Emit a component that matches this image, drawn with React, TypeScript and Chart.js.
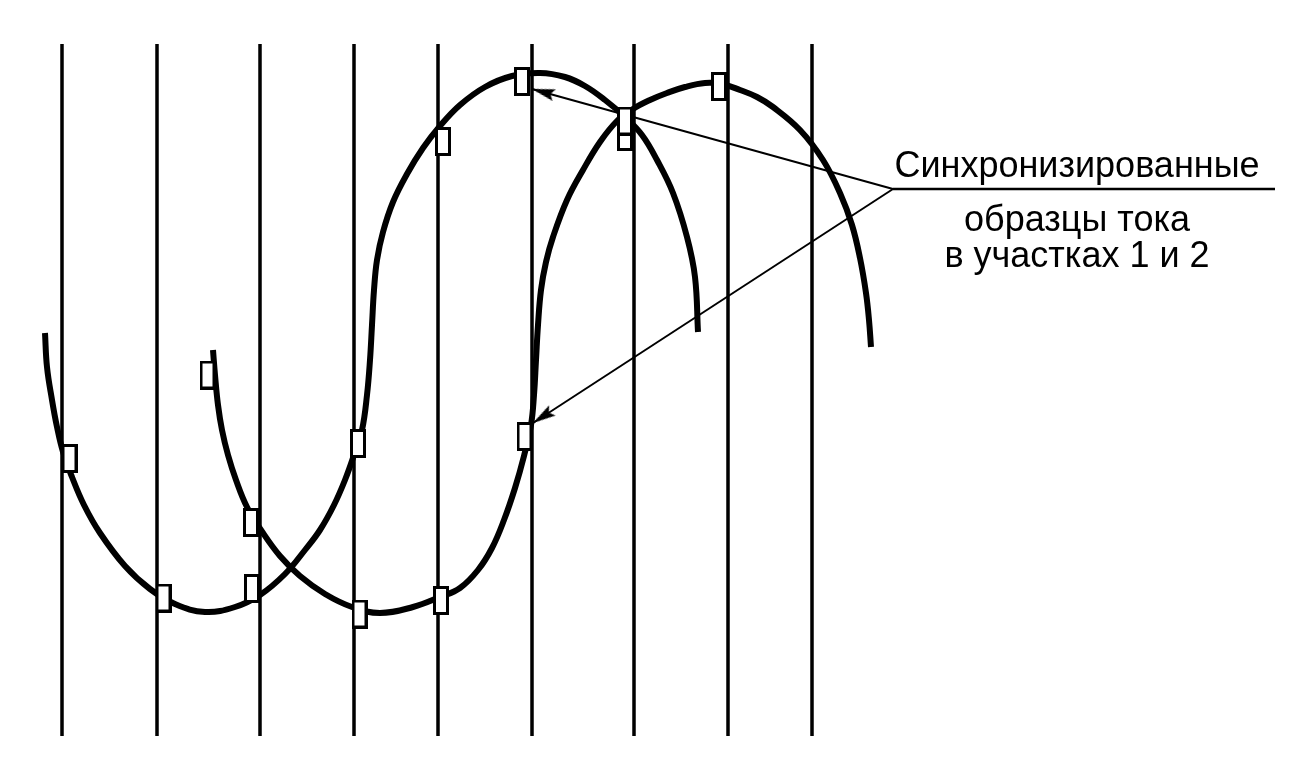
import React, { useEffect, useRef } from "react";
import { Chart, registerables } from "chart.js";

Chart.register(...registerables);

// Diagram units (no visible axes): horizontal = time, vertical = drawing height (downwards).
const samplingInstants = [62, 157, 260, 354, 438, 532, 634, 728, 812];
const samplingSpan = [44, 736];

const current1X = [45, 47, 52, 57, 63, 72, 84, 100, 125, 150, 175, 205, 235, 260, 285, 305, 320, 334, 345, 354, 362, 367, 370, 372, 374, 377, 383, 393, 407, 423, 440, 460, 485, 512, 540, 565, 585, 605, 625, 642, 657, 673, 687, 695, 698];
const current1Y = [333, 367, 400, 427, 452, 477, 505, 533, 566, 589, 604, 612, 607, 595, 574, 550, 530, 505, 480, 455, 430, 395, 360, 325, 290, 260, 232, 202, 174, 148, 126, 105, 87, 76, 73, 77, 86, 100, 117, 135, 160, 193, 237, 277, 332];

const current2X = [213, 215, 218, 222, 228, 236, 247, 263, 280, 300, 325, 352, 380, 413, 440, 460, 478, 492, 504, 515, 524, 531, 534, 536, 538, 541, 546, 553, 567, 583, 600, 617, 633, 650, 667, 685, 705, 722, 740, 757, 773, 800, 823, 840, 852, 860, 866, 869, 871];
const current2Y = [350, 375, 405, 430, 455, 480, 507, 533, 556, 576, 594, 607, 613, 607, 597, 588, 570, 548, 520, 488, 456, 425, 395, 360, 325, 290, 262, 237, 200, 170, 142, 121, 109, 100, 93, 87, 83, 84, 90, 97, 107, 130, 160, 193, 225, 258, 293, 320, 347];

const samples1X = [69.5, 163.5, 252, 358, 443, 522, 625];
const samples1Y = [458.5, 598, 588.5, 443.5, 141.5, 81.5, 121];
const samples2X = [207.5, 251, 359.5, 441, 524.5, 625, 719];
const samples2Y = [375, 522.5, 614, 600.5, 436.5, 136.5, 86.5];

const leaderOrigin = [893, 189];
const underlineEnd = [1275, 189];
const arrowTipsX = [532, 533];
const arrowTipsY = [89, 423];

const labelLines = ["Синхронизированные", "образцы тока", "в участках 1 и 2"];
const labelCenterX = 1077;
const labelBaselines = [177, 231, 267];

function makeMarker(): HTMLCanvasElement {
  const c = document.createElement("canvas");
  c.width = 16;
  c.height = 29;
  const g = c.getContext("2d")!;
  g.fillStyle = "#ffffff";
  g.fillRect(0, 0, 16, 29);
  g.strokeStyle = "#000000";
  g.lineWidth = 3;
  g.strokeRect(1.5, 1.5, 13, 26);
  return c;
}

function makeArrowHead(): HTMLCanvasElement {
  const L = 23;
  const W = 6;
  const c = document.createElement("canvas");
  c.width = L * 2;
  c.height = W * 2 + 2;
  const g = c.getContext("2d")!;
  g.fillStyle = "#000000";
  g.beginPath();
  g.moveTo(L, W + 1);
  g.lineTo(0, 1);
  g.lineTo(4, W + 1);
  g.lineTo(0, W * 2 + 1);
  g.closePath();
  g.fill();
  return c;
}

const textPlugin = {
  id: "calloutText",
  afterDatasetsDraw(chart: any) {
    const { ctx, scales } = chart;
    ctx.save();
    ctx.fillStyle = "#000000";
    ctx.font = '36px "Liberation Sans", Arial, sans-serif';
    ctx.textAlign = "center";
    ctx.textBaseline = "alphabetic";
    labelLines.forEach((t, i) => {
      ctx.fillText(t, scales.x.getPixelForValue(labelCenterX), scales.y.getPixelForValue(labelBaselines[i]));
    });
    ctx.restore();
  },
};

export default function App() {
  const ref = useRef<HTMLCanvasElement>(null);

  useEffect(() => {
    if (!ref.current) return;
    const marker = makeMarker();
    const arrowHead = makeArrowHead();

    const gridData: any[] = [];
    samplingInstants.forEach((x) => {
      gridData.push({ x, y: samplingSpan[0] });
      gridData.push({ x, y: samplingSpan[1] });
      gridData.push({ x, y: null });
    });

    const arrowRotation = (c: any) => {
      const ds = c.chart.data.datasets[c.datasetIndex];
      const p0 = ds.data[0];
      const p1 = ds.data[1];
      const sx = c.chart.scales.x;
      const sy = c.chart.scales.y;
      const dx = sx.getPixelForValue(p1.x) - sx.getPixelForValue(p0.x);
      const dy = sy.getPixelForValue(p1.y) - sy.getPixelForValue(p0.y);
      return (Math.atan2(dy, dx) * 180) / Math.PI;
    };

    const arrowDs = (i: number) => ({
      label: "arrow" + i,
      data: [
        { x: leaderOrigin[0], y: leaderOrigin[1] },
        { x: arrowTipsX[i], y: arrowTipsY[i] },
      ],
      borderColor: "#000000",
      borderWidth: 2,
      tension: 0,
      pointRadius: [0, 6],
      pointStyle: arrowHead,
      pointRotation: arrowRotation,
      order: 1,
    });

    const chart = new Chart(ref.current, {
      type: "line",
      data: {
        datasets: [
          {
            label: "samples1",
            data: samples1X.map((x, i) => ({ x, y: samples1Y[i] })),
            showLine: false,
            pointStyle: marker,
            pointRadius: 8,
            order: 0,
          },
          {
            label: "samples2",
            data: samples2X.map((x, i) => ({ x, y: samples2Y[i] })),
            showLine: false,
            pointStyle: marker,
            pointRadius: 8,
            order: 0.5,
          },
          arrowDs(0),
          arrowDs(1),
          {
            label: "underline",
            data: [
              { x: leaderOrigin[0], y: leaderOrigin[1] },
              { x: underlineEnd[0], y: underlineEnd[1] },
            ],
            borderColor: "#000000",
            borderWidth: 2.5,
            pointRadius: 0,
            order: 1,
          },
          {
            label: "current1",
            data: current1X.map((x, i) => ({ x, y: current1Y[i] })),
            borderColor: "#000000",
            borderWidth: 6,
            tension: 0.4,
            pointRadius: 0,
            borderCapStyle: "butt",
            borderJoinStyle: "round",
            order: 2,
          },
          {
            label: "current2",
            data: current2X.map((x, i) => ({ x, y: current2Y[i] })),
            borderColor: "#000000",
            borderWidth: 6,
            tension: 0.4,
            pointRadius: 0,
            borderCapStyle: "butt",
            borderJoinStyle: "round",
            order: 2,
          },
          {
            label: "sampling",
            data: gridData,
            borderColor: "#000000",
            borderWidth: 3.5,
            tension: 0,
            spanGaps: false,
            pointRadius: 0,
            borderCapStyle: "butt",
            order: 3,
          },
        ],
      },
      options: {
        responsive: false,
        animation: false,
        events: [],
        layout: { padding: 0, autoPadding: false },
        plugins: { legend: { display: false }, tooltip: { enabled: false }, title: { display: false } },
        scales: {
          x: { type: "linear", min: 0, max: 1297, display: false },
          y: { type: "linear", min: 0, max: 769, reverse: true, display: false },
        },
      },
      plugins: [textPlugin],
    } as any);

    return () => chart.destroy();
  }, []);

  return (
    <div style={{ position: "absolute", left: 0, top: 0, width: 1297, height: 769, background: "#ffffff" }}>
      <canvas ref={ref} width={1297} height={769} style={{ display: "block" }} />
    </div>
  );
}
